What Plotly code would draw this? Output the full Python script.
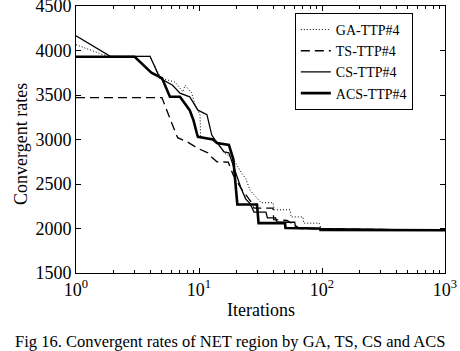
import plotly.graph_objects as go

# ---- data ----
ga_it = [1, 1.8, 4.0, 4.9, 5.5, 6.4, 7.4, 7.7, 8.7, 9.3, 10.2, 10.3, 13, 14.5, 16, 19, 22.3, 24, 26, 28, 32, 40, 41, 55, 56, 70, 71, 95, 98, 1000]
ga_val = [4065, 3935, 3935, 3690, 3670, 3645, 3535, 3610, 3525, 3390, 3275, 3030, 3000, 2950, 2850, 2780, 2620, 2560, 2430, 2380, 2290, 2290, 2210, 2210, 2130, 2130, 2060, 2060, 2000, 1980]

ts_it = [1, 5.0, 6.0, 6.7, 8.1, 9.8, 11.8, 12.7, 14, 17.3, 19, 22, 26.5, 28, 40, 40.5, 52, 60, 66, 1000]
ts_val = [3470, 3470, 3185, 3020, 2970, 2900, 2850, 2800, 2750, 2745, 2600, 2450, 2300, 2230, 2230, 2100, 2090, 2040, 2000, 1980]

cs_it = [1, 1.9, 4.0, 4.8, 6.1, 7.0, 8.4, 9.8, 11.6, 12.7, 13.5, 14.8, 16, 17.5, 19.5, 22, 24, 26, 28, 35, 36, 42, 43, 60, 61, 80, 1000]
cs_val = [4165, 3935, 3935, 3690, 3610, 3520, 3480, 3330, 3280, 3050, 2995, 2920, 2860, 2850, 2650, 2450, 2330, 2280, 2185, 2185, 2120, 2120, 2070, 2070, 2010, 2000, 1980]

acs_it = [1, 3.0, 4.1, 5.0, 5.8, 7.0, 8.4, 9.0, 9.6, 9.8, 13, 14, 17.5, 19, 20.5, 29.6, 30.5, 50, 50.5, 96, 97, 1000]
acs_val = [3930, 3930, 3750, 3690, 3480, 3480, 3330, 3220, 3070, 3030, 3000, 2960, 2940, 2780, 2270, 2270, 2060, 2060, 2005, 2000, 1985, 1980]

x_tickvals = [1, 10, 100, 1000]
x_ticktext = ["10<sup>0</sup>", "10<sup>1</sup>", "10<sup>2</sup>", "10<sup>3</sup>"]
x_minor = [2, 3, 4, 5, 6, 7, 8, 9, 20, 30, 40, 50, 60, 70, 80, 90,
           200, 300, 400, 500, 600, 700, 800, 900]
y_tickvals = [1500, 2000, 2500, 3000, 3500, 4000, 4500]

FONT = "Liberation Serif"

fig = go.Figure()
fig.add_trace(go.Scatter(x=ga_it, y=ga_val, mode="lines", name="GA-TTP#4",
                         line=dict(color="black", width=1, dash="1px,2px")))
fig.add_trace(go.Scatter(x=ts_it, y=ts_val, mode="lines", name="TS-TTP#4",
                         line=dict(color="black", width=1.3, dash="9px,5px")))
fig.add_trace(go.Scatter(x=cs_it, y=cs_val, mode="lines", name="CS-TTP#4",
                         line=dict(color="black", width=1.3)))
fig.add_trace(go.Scatter(x=acs_it, y=acs_val, mode="lines", name="ACS-TTP#4",
                         line=dict(color="black", width=2.6)))

fig.update_layout(
    width=460, height=351,
    margin=dict(l=76, r=15, t=6, b=78, autoexpand=False),
    paper_bgcolor="white", plot_bgcolor="white",
    font=dict(family=FONT, color="black", size=18),
    showlegend=True,
    legend=dict(x=0.593, y=0.974, xanchor="left", yanchor="top",
                bordercolor="black", borderwidth=1, bgcolor="white",
                font=dict(family=FONT, size=14), tracegroupgap=0,
                itemwidth=30),
)
fig.update_xaxes(type="log", range=[0, 3], tickvals=x_tickvals, ticktext=x_ticktext,
                 showline=True, linecolor="black", linewidth=1, mirror="ticks",
                 ticks="inside", ticklen=5, tickcolor="black", showgrid=False,
                 zeroline=False, automargin=False, ticklabeloverflow="allow",
                 tickfont=dict(family=FONT, size=18),
                 minor=dict(ticks="inside", ticklen=3, tickcolor="black",
                            tickvals=x_minor, showgrid=False))
fig.update_yaxes(range=[1500, 4500], tickvals=y_tickvals,
                 showline=True, linecolor="black", linewidth=1, mirror="ticks",
                 ticks="inside", ticklen=5, tickcolor="black", showgrid=False,
                 zeroline=False, automargin=False, ticklabeloverflow="allow",
                 tickfont=dict(family=FONT, size=18))

fig.add_annotation(text="Iterations", xref="paper", yref="paper", x=0.5, y=(273 - 310) / 267,
                   yanchor="middle", showarrow=False, font=dict(family=FONT, size=18))
fig.add_annotation(text="Convergent rates", xref="paper", yref="paper", x=(9 - 76) / 369,
                   y=(273 - 144) / 267,
                   textangle=-90, showarrow=False, font=dict(family=FONT, size=18))
fig.add_annotation(text="Fig 16. Convergent rates of NET region by GA, TS, CS and ACS",
                   xref="paper", yref="paper", x=(230 - 76) / 369, y=(273 - 341) / 267,
                   yanchor="middle", showarrow=False, font=dict(family=FONT, size=16.5))

fig.write_html("out.html", config={"displayModeBar": False},
               post_script="document.body.style.margin='0';document.body.style.padding='0';")
